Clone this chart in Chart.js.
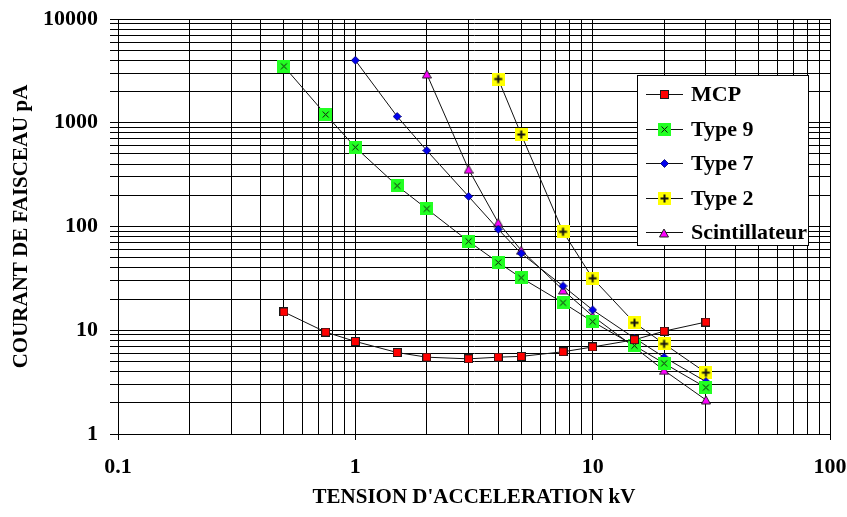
<!DOCTYPE html>
<html>
<head>
<meta charset="utf-8">
<script src="https://cdn.jsdelivr.net/npm/chart.js@4.4.1/dist/chart.umd.min.js"></script>
<style>
  html, body { margin: 0; padding: 0; background: #fff; }
  #wrap { width: 847px; height: 517px; }
</style>
</head>
<body>
<div id="wrap"><canvas id="c" width="847" height="517"></canvas></div>
<script>
// Accelerating voltage (kV) and beam current (pA) for each detector
const tension = [0.5, 0.75, 1, 1.5, 2, 3, 4, 5, 7.5, 10, 15, 20, 30];
const mcp   = [15, 9.6, 7.8, 6.1, 5.5, 5.3, 5.5, 5.6, 6.2, 6.9, 8.1, 9.8, 12];
const type9 = [3500, 1200, 580, 247, 148, 72, 45, 32, 18.4, 12.1, 7.1, 4.8, 2.8];
const type7 = [null, null, 4000, 1150, 540, 195, 94, 55, 26.7, 15.7, 8.4, 5.5, 3.2];
const type2 = [null, null, null, null, null, null, 2640, 770, 89, 31.7, 11.8, 7.4, 3.9];
const scint = [null, null, null, null, 2950, 356, 109, 59, 24.4, 13.7, 6.85, 4.1, 2.13];
const seriesNames = ['MCP', 'Type 9', 'Type 7', 'Type 2', 'Scintillateur'];
const xTickLabels = ['0.1', '1', '10', '100'];
const yTickLabels = ['1', '10', '100', '1000', '10000'];

const SERIF = '"Liberation Serif", "Times New Roman", serif';

// ---- marker images ----
function makeMarker(size, draw) {
  const c = document.createElement('canvas');
  c.width = size; c.height = size;
  draw(c.getContext('2d'), size);
  return c;
}
const mkSquare = makeMarker(9, (g, s) => {
  g.fillStyle = '#1a1a1a'; g.fillRect(0, 0, s, s);
  g.fillStyle = '#ff0000'; g.fillRect(1, 1, s - 2, s - 2);
});
const mkCross = makeMarker(13, (g, s) => {
  g.fillStyle = '#22ff22'; g.fillRect(0, 0, s, s);
  g.strokeStyle = '#111'; g.lineWidth = 1;
  g.beginPath(); g.moveTo(3.5, 3.5); g.lineTo(9.5, 9.5); g.moveTo(9.5, 3.5); g.lineTo(3.5, 9.5); g.stroke();
});
const mkDiamond = makeMarker(9, (g, s) => {
  g.fillStyle = '#0000ee'; g.strokeStyle = '#00006a'; g.lineWidth = 0.8;
  g.beginPath(); g.moveTo(4.5, 0.5); g.lineTo(8.5, 4.5); g.lineTo(4.5, 8.5); g.lineTo(0.5, 4.5); g.closePath();
  g.fill(); g.stroke();
});
const mkPlus = makeMarker(13, (g, s) => {
  g.fillStyle = '#ffff00'; g.fillRect(0, 0, s, s);
  g.fillStyle = '#111';
  g.fillRect(5.5, 2.5, 2, 8); g.fillRect(2.5, 5.5, 8, 2);
});
const mkTriangle = makeMarker(10, (g, s) => {
  g.fillStyle = '#ff00ff'; g.strokeStyle = '#222'; g.lineWidth = 1;
  g.beginPath(); g.moveTo(5, 1); g.lineTo(9.5, 9); g.lineTo(0.5, 9); g.closePath();
  g.fill(); g.stroke();
});
const markers = [mkSquare, mkCross, mkDiamond, mkPlus, mkTriangle];

// ---- log grid: every 1..9 multiple inside each labelled decade ----
function logTicks(labels) {
  const decades = labels.map(Number);
  const ticks = [];
  for (let i = 0; i < decades.length - 1; i++) {
    for (let k = 1; k <= 9; k++) {
      ticks.push({ value: +(decades[i] * k).toPrecision(6), major: k === 1 });
    }
  }
  ticks.push({ value: decades[decades.length - 1], major: true });
  return ticks;
}
function labelFor(labels, value) {
  const hit = labels.find(l => Math.abs(Number(l) - value) < 1e-9 * Math.max(1, value));
  return hit === undefined ? '' : hit;
}
function isDecade(labels, value) { return labelFor(labels, value) !== ''; }

function toPoints(values) {
  const pts = [];
  values.forEach((v, i) => { if (v !== null) pts.push({ x: tension[i], y: v }); });
  return pts;
}
const allSeries = [mcp, type9, type7, type2, scint];
const datasets = allSeries.map((vals, i) => ({
  label: seriesNames[i],
  data: toPoints(vals),
  borderColor: '#111',
  borderWidth: 1,
  pointStyle: markers[i],
  pointRadius: 5,
  pointHoverRadius: 5,
  fill: false,
  tension: 0
}));

// ---- legend box with line + marker samples ----
const legendBox = {
  id: 'legendBox',
  afterDraw(chart) {
    const ctx = chart.ctx, a = chart.chartArea;
    const w = 171, h = 170;
    const left = a.right - 22 - w, top = a.top + 56;
    ctx.save();
    ctx.fillStyle = '#fff';
    ctx.fillRect(left, top, w, h);
    ctx.strokeStyle = '#000'; ctx.lineWidth = 1;
    ctx.strokeRect(left + 0.5, top + 0.5, w, h);
    ctx.font = 'bold 22px ' + SERIF;
    ctx.textBaseline = 'middle';
    ctx.textAlign = 'left';
    chart.data.datasets.forEach((ds, i) => {
      const y = Math.round(top + 19 + i * 34.5) + 0.5;
      ctx.strokeStyle = '#111'; ctx.lineWidth = 1;
      ctx.beginPath(); ctx.moveTo(left + 9, y); ctx.lineTo(left + 46, y); ctx.stroke();
      const m = ds.pointStyle;
      ctx.drawImage(m, Math.round(left + 27 - m.width / 2), Math.round(y - m.height / 2));
      ctx.fillStyle = '#000';
      ctx.fillText(ds.label, left + 54, y + 1);
    });
    ctx.restore();
  }
};

// keep the plot box fixed: no extra room reserved for overhanging labels
function fixX(s) { s.height = 83; s.paddingLeft = 0; s.paddingRight = 0; }
function fixY(s) { s.width = 118; s.paddingTop = 0; s.paddingBottom = 0; }

new Chart(document.getElementById('c'), {
  type: 'line',
  data: { datasets },
  options: {
    responsive: false,
    animation: false,
    events: [],
    layout: { padding: { top: 19, right: 17, bottom: 0, left: 0 } },
    plugins: { legend: { display: false }, tooltip: { enabled: false } },
    scales: {
      x: {
        type: 'logarithmic',
        min: Number(xTickLabels[0]),
        max: Number(xTickLabels[xTickLabels.length - 1]),
        afterBuildTicks: s => { s.ticks = logTicks(xTickLabels); },
        afterFit: fixX,
        border: { color: '#000', width: 1 },
        grid: {
          color: '#000',
          lineWidth: 1,
          tickLength: 6,
          tickColor: c => (c.tick && isDecade(xTickLabels, c.tick.value)) ? '#000' : 'rgba(0,0,0,0)'
        },
        ticks: {
          autoSkip: false,
          maxRotation: 0,
          padding: 14,
          color: '#000',
          font: { family: SERIF, size: 22, weight: 'bold' },
          callback: v => labelFor(xTickLabels, v)
        },
        title: {
          display: true,
          text: "TENSION D'ACCELERATION kV",
          color: '#000',
          font: { family: SERIF, size: 21, weight: 'bold' },
          padding: { top: 0, bottom: 7 }
        }
      },
      y: {
        type: 'logarithmic',
        min: Number(yTickLabels[0]),
        max: Number(yTickLabels[yTickLabels.length - 1]),
        afterBuildTicks: s => { s.ticks = logTicks(yTickLabels); },
        afterFit: fixY,
        border: { color: '#000', width: 1 },
        grid: { color: '#000', lineWidth: 1, tickLength: 8, tickColor: '#000' },
        ticks: {
          autoSkip: false,
          padding: 12,
          color: '#000',
          font: { family: SERIF, size: 22, weight: 'bold' },
          callback: v => labelFor(yTickLabels, v)
        },
        title: {
          display: true,
          text: 'COURANT DE FAISCEAU pA',
          color: '#000',
          font: { family: SERIF, size: 21, weight: 'bold' },
          padding: { top: 9, bottom: 0 }
        }
      }
    }
  },
  plugins: [legendBox]
});
</script>
</body>
</html>
